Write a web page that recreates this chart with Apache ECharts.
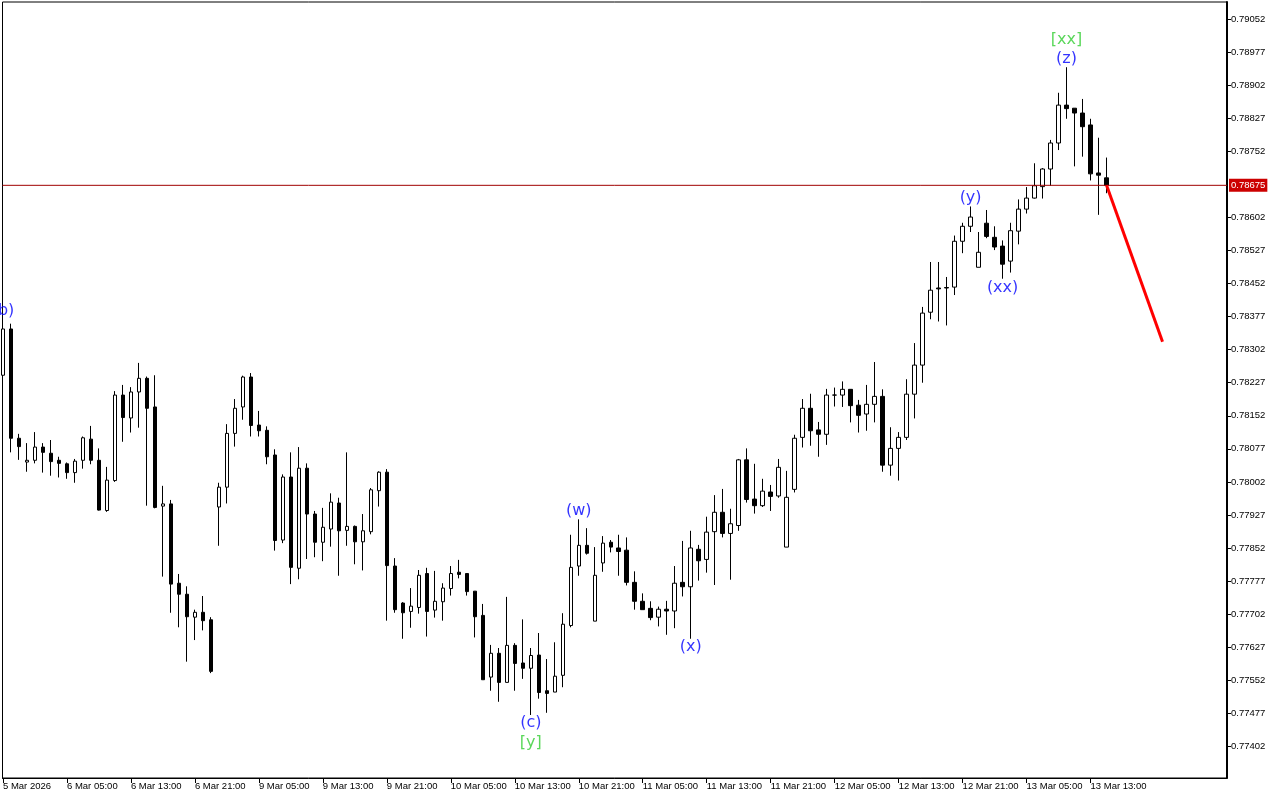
<!DOCTYPE html>
<html>
<head>
<meta charset="utf-8">
<script src="https://cdn.jsdelivr.net/npm/echarts@6.0.0/dist/echarts.min.js"></script>
<style>
html,body{margin:0;padding:0;background:#ffffff;}
#c{width:1280px;height:800px;}
</style>
</head>
<body>
<div id="c"></div>
<script>
// ---- DATA (hourly candles, index 0 = 5 Mar 2026 21:00) ----
const opens = [0.78244,0.78349,0.78101,0.78047,0.78051,0.78081,0.78067,0.78051,0.78043,0.78023,
0.78051,0.78099,0.78051,0.77937,0.78005,0.78199,0.78147,0.78206,0.78237,0.78172,
0.77947,0.77952,0.77772,0.77747,0.77695,0.77706,0.77689,0.77945,0.77990,0.78112,
0.78172,0.78240,0.78131,0.78119,0.78063,0.77870,0.78013,0.77806,0.78033,0.77929,
0.77865,0.77895,0.77954,0.77892,0.77901,0.77866,0.77889,0.77982,0.78024,0.77811,
0.77727,0.77708,0.77717,0.77794,0.77711,0.77730,0.77760,0.77797,0.77794,0.77754,
0.77699,0.77559,0.77613,0.77547,0.77631,0.77591,0.77579,0.77609,0.77528,0.77525,
0.77563,0.77676,0.77811,0.77858,0.77686,0.77818,0.77865,0.77852,0.77847,0.77774,
0.77731,0.77715,0.77695,0.77713,0.77709,0.77774,0.77764,0.77849,0.77826,0.77889,
0.77933,0.77885,0.77903,0.78052,0.77963,0.77948,0.77979,0.77970,0.77854,0.77985,
0.78103,0.78169,0.78120,0.78110,0.78199,0.78199,0.78212,0.78176,0.78156,0.78178,
0.78196,0.78040,0.78078,0.78103,0.78201,0.78267,0.78387,0.78442,0.78443,0.78444,
0.78548,0.78582,0.78489,0.78589,0.78557,0.78537,0.78503,0.78571,0.78621,0.78646,
0.78672,0.78712,0.78771,0.78857,0.78850,0.78839,0.78812,0.78703,0.78692];

const closes = [0.78349,0.78101,0.78082,0.78051,0.78081,0.78069,0.78048,0.78044,0.78023,0.78049,
0.78102,0.78051,0.77938,0.78006,0.78199,0.78148,0.78206,0.78237,0.78169,0.77944,
0.77952,0.77770,0.77747,0.77696,0.77706,0.77687,0.77572,0.77990,0.78112,0.78169,
0.78240,0.78130,0.78118,0.78059,0.77869,0.78013,0.77808,0.78033,0.77929,0.77865,
0.77899,0.77956,0.77891,0.77901,0.77866,0.77891,0.77984,0.78024,0.77812,0.77712,
0.77705,0.77720,0.77790,0.77708,0.77731,0.77761,0.77794,0.77792,0.77753,0.77696,
0.77553,0.77613,0.77547,0.77631,0.77590,0.77579,0.77608,0.77524,0.77522,0.77561,
0.77679,0.77808,0.77858,0.77840,0.77790,0.77863,0.77854,0.77844,0.77774,0.77731,
0.77712,0.77694,0.77713,0.77709,0.77772,0.77764,0.77852,0.77823,0.77888,0.77933,
0.77885,0.77907,0.78052,0.77962,0.77948,0.77981,0.77969,0.78035,0.77967,0.78101,
0.78169,0.78118,0.78110,0.78199,0.78199,0.78212,0.78175,0.78153,0.78178,0.78196,
0.78040,0.78078,0.78103,0.78201,0.78267,0.78385,0.78437,0.78440,0.78442,0.78548,
0.78582,0.78603,0.78523,0.78559,0.78535,0.78496,0.78572,0.78621,0.78646,0.78674,
0.78712,0.78771,0.78857,0.78849,0.78839,0.78808,0.78701,0.78698,0.78675];

const lows = [0.78240,0.78069,0.78052,0.78025,0.78044,0.78023,0.78016,0.78012,0.78009,0.78000,
0.78032,0.78042,0.77937,0.77934,0.78002,0.78093,0.78114,0.78125,0.77948,0.77942,
0.77787,0.77705,0.77672,0.77594,0.77643,0.77665,0.77568,0.77857,0.77953,0.78082,
0.78143,0.78105,0.78105,0.78042,0.77846,0.77863,0.77770,0.77781,0.77827,0.77831,
0.77822,0.77855,0.77789,0.77857,0.77815,0.77801,0.77883,0.77946,0.77687,0.77705,
0.77646,0.77671,0.77703,0.77651,0.77694,0.77687,0.77744,0.77783,0.77744,0.77649,
0.77553,0.77528,0.77503,0.77547,0.77528,0.77555,0.77473,0.77510,0.77478,0.77525,
0.77536,0.77672,0.77789,0.77837,0.77686,0.77798,0.77842,0.77789,0.77767,0.77712,
0.77712,0.77688,0.77674,0.77655,0.77670,0.77742,0.77646,0.77778,0.77796,0.77768,
0.77876,0.77780,0.77891,0.77955,0.77930,0.77945,0.77936,0.77966,0.77854,0.77978,
0.78080,0.78084,0.78059,0.78086,0.78173,0.78172,0.78137,0.78114,0.78118,0.78137,
0.78025,0.78016,0.78005,0.78097,0.78146,0.78227,0.78371,0.78366,0.78357,0.78426,
0.78521,0.78569,0.78489,0.78555,0.78528,0.78463,0.78477,0.78541,0.78611,0.78645,
0.78645,0.78674,0.78755,0.78826,0.78718,0.78740,0.78686,0.78608,0.78657];

const highs = [0.78356,0.78361,0.78111,0.78090,0.78115,0.78090,0.78097,0.78059,0.78046,0.78054,
0.78105,0.78129,0.78078,0.78036,0.78208,0.78222,0.78217,0.78272,0.78241,0.78244,
0.77993,0.77961,0.77793,0.77765,0.77712,0.77743,0.77695,0.78000,0.78133,0.78190,
0.78243,0.78249,0.78163,0.78128,0.78076,0.78019,0.78069,0.78081,0.78044,0.77936,
0.77943,0.77976,0.77966,0.78069,0.77903,0.77929,0.77988,0.78026,0.78031,0.77829,
0.77729,0.77761,0.77802,0.77807,0.77800,0.77772,0.77811,0.77825,0.77794,0.77754,
0.77725,0.77632,0.77625,0.77741,0.77636,0.77690,0.77625,0.77659,0.77600,0.77638,
0.77704,0.77882,0.77917,0.77897,0.77854,0.77879,0.77870,0.77882,0.77876,0.77799,
0.77749,0.77731,0.77719,0.77732,0.77811,0.77868,0.77891,0.77859,0.77923,0.77972,
0.77986,0.77941,0.78054,0.78078,0.78043,0.78009,0.77995,0.78054,0.78027,0.78109,
0.78190,0.78202,0.78138,0.78213,0.78216,0.78230,0.78212,0.78188,0.78222,0.78274,
0.78212,0.78126,0.78115,0.78235,0.78317,0.78399,0.78501,0.78501,0.78467,0.78561,
0.78590,0.78627,0.78569,0.78619,0.78582,0.78550,0.78590,0.78643,0.78671,0.78725,
0.78714,0.78778,0.78885,0.78943,0.78850,0.78871,0.78826,0.78783,0.78738];

// time-axis tick labels (one every 8 hourly bars, starting at bar 0)
const timeLabels = ['5 Mar 2026','6 Mar 05:00','6 Mar 13:00','6 Mar 21:00','9 Mar 05:00','9 Mar 13:00',
  '9 Mar 21:00','10 Mar 05:00','10 Mar 13:00','10 Mar 21:00','11 Mar 05:00','11 Mar 13:00',
  '11 Mar 21:00','12 Mar 05:00','12 Mar 13:00','12 Mar 21:00','13 Mar 05:00','13 Mar 13:00'];
const barsPerLabel = 8;

// price-axis tick labels
const priceTicks = [0.79052,0.78977,0.78902,0.78827,0.78752,0.78602,0.78527,0.78452,0.78377,
  0.78302,0.78227,0.78152,0.78077,0.78002,0.77927,0.77852,0.77777,0.77702,0.77627,0.77552,
  0.77477,0.77402];

// projection line (bar index, price)
const projBars = [138, 145];
const projPrices = [0.78675, 0.78320];

// wave labels
const waveText   = ['(b)','(w)','(c)','[y]','(x)','(y)','(xx)','[xx]','(z)'];
const waveBar    = [0, 72, 66, 66, 86, 121, 125, 133, 133];
const wavePrice  = [0.78390,0.77936,0.77455,0.77410,0.77628,0.78646,0.78442,0.79005,0.78962];
const waveDegree = [0,0,0,1,0,0,0,1,0];

// visible ranges
const barMin = -0.0625, barMax = 153.0625;
const priceMin = 0.77330, priceMax = 0.79091;

// ---- CHART ----
const degreeColor = ['#0000ff', '#32cd32'];
const candles = opens.map((o, i) => [i, o, closes[i], lows[i], highs[i]]);
const xTickVals = timeLabels.map((_, k) => k * barsPerLabel);
const lastPrice = closes[closes.length - 1];
const axisFont = 'Liberation Sans';

const chart = echarts.init(document.getElementById('c'), null, {renderer: 'canvas'});
chart.setOption({
  animation: false,
  backgroundColor: '#ffffff',
  grid: {left: 2, right: 53, top: 2, bottom: 22, show: true, borderColor: '#000', borderWidth: 1, backgroundColor: 'transparent'},
  xAxis: {
    type: 'value', min: barMin, max: barMax,
    axisLine: {show: true, onZero: false, lineStyle: {color: '#000', width: 1}},
    splitLine: {show: false},
    axisTick: {show: true, length: 5, customValues: xTickVals, lineStyle: {color: '#000'}},
    axisLabel: {
      customValues: xTickVals,
      formatter: v => { const k = Math.round(v / barsPerLabel); return timeLabels[k] || ''; },
      align: 'left', margin: 3, padding: [0, 0, 0, 0],
      fontFamily: axisFont, fontSize: 9.5, color: '#000'
    }
  },
  yAxis: {
    type: 'value', position: 'right', min: priceMin, max: priceMax, scale: true,
    axisLine: {show: true, onZero: false, lineStyle: {color: '#000', width: 2}},
    splitLine: {show: false},
    axisTick: {show: true, length: 4, customValues: priceTicks, lineStyle: {color: '#000'}},
    axisLabel: {
      customValues: priceTicks,
      formatter: v => v.toFixed(5),
      margin: 4, fontFamily: axisFont, fontSize: 9.5, color: '#000'
    }
  },
  series: [
    {
      type: 'candlestick',
      data: candles,
      encode: {x: 0, y: [1, 2, 3, 4]},
      barWidth: 4,
      itemStyle: {color: '#ffffff', color0: '#000000', borderColor: '#000000', borderColor0: '#000000', borderWidth: 1}
    },
    {
      // current price line with tag on the price axis
      type: 'line',
      data: [[barMin, lastPrice], [barMax, lastPrice]],
      showSymbol: false, symbol: 'none', silent: true,
      lineStyle: {color: '#a00000', width: 1},
      z: 3,
      endLabel: {
        show: true, distance: 2,
        formatter: () => lastPrice.toFixed(5),
        backgroundColor: '#cc0000', color: '#ffffff', padding: [2, 2, 1, 2],
        fontFamily: axisFont, fontSize: 9.5
      }
    },
    {
      type: 'line',
      data: projBars.map((b, k) => [b, projPrices[k]]),
      showSymbol: false, symbol: 'none',
      lineStyle: {color: '#ff0000', width: 3},
      z: 5
    },
    {
      type: 'scatter',
      clip: false,
      symbol: 'circle', symbolSize: 1,
      itemStyle: {color: 'rgba(0,0,0,0)'},
      data: waveBar.map((b, k) => ({
        value: [b, wavePrice[k]],
        label: {color: degreeColor[waveDegree[k]]}
      })),
      label: {
        show: true, position: 'inside',
        formatter: p => waveText[p.dataIndex],
        fontFamily: 'DejaVu Sans', fontSize: 16
      },
      z: 6
    }
  ]
});
</script>
</body>
</html>
